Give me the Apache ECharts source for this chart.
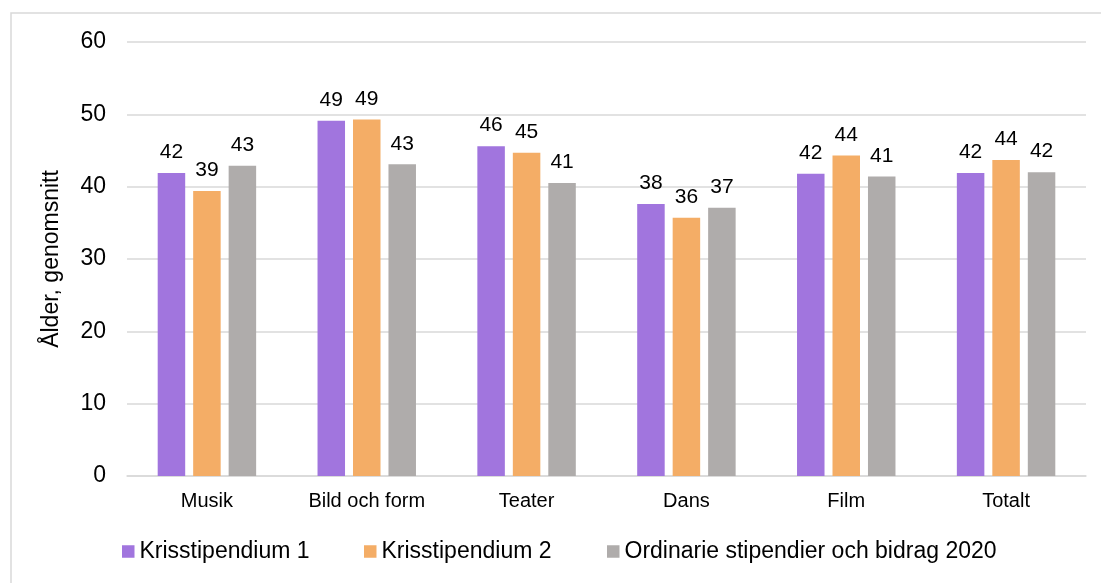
<!DOCTYPE html>
<html>
<head>
<meta charset="utf-8">
<script src="https://cdn.jsdelivr.net/npm/echarts@6/dist/echarts.min.js"></script>
<style>
  html, body { margin: 0; padding: 0; background: #fff; }
  #main { width: 1101px; height: 583px; }
</style>
</head>
<body>
<div id="main"></div>
<script>
// data
var categories = ['Musik', 'Bild och form', 'Teater', 'Dans', 'Film', 'Totalt'];
var seriesNames = ['Krisstipendium 1', 'Krisstipendium 2', 'Ordinarie stipendier och bidrag 2020'];
var kris1 = [41.9, 49.1, 45.6, 37.6, 41.8, 41.9];
var kris2 = [39.4, 49.3, 44.7, 35.7, 44.3, 43.7];
var ordinarie = [42.9, 43.1, 40.5, 37.1, 41.4, 42.0];
var yTicks = [0, 10, 20, 30, 40, 50, 60];

var colors = ['#a175de', '#f4ad66', '#afacab'];
var fontFam = '"Liberation Sans", Arial, sans-serif';

var myChart = echarts.init(document.getElementById('main'));

function barSeries(name, data, color) {
    return {
        name: name,
        type: 'bar',
        data: data,
        barWidth: 27.5,
        barGap: '29%',
        itemStyle: { color: color },
        label: {
            show: true,
            position: 'top',
            distance: 10,
            color: '#000',
            fontSize: 21,
            fontFamily: fontFam,
            formatter: function (p) { return Math.round(p.value); }
        }
    };
}

// one legend per item so each can sit where the original puts it
function legendAt(name, left) {
    return {
        data: [name],
        left: left,
        top: 540,
        padding: 0,
        itemWidth: 12.5,
        itemHeight: 12.5,
        itemGap: 0,
        icon: 'rect',
        textStyle: { fontSize: 23, fontFamily: fontFam, color: '#000' }
    };
}

var option = {
    animation: false,
    textStyle: { fontFamily: fontFam },
    graphic: [{
        type: 'rect',
        shape: { x: 11, y: 13, width: 1100, height: 600 },
        style: { fill: 'none', stroke: '#d9d9d9', lineWidth: 1.5 },
        silent: true
    }],
    legend: [
        legendAt(seriesNames[0], 122),
        legendAt(seriesNames[1], 364),
        legendAt(seriesNames[2], 607)
    ],
    grid: {
        left: 127,
        right: 15,
        top: 42,
        bottom: 107
    },
    xAxis: {
        type: 'category',
        data: categories,
        axisTick: { show: false },
        axisLine: { lineStyle: { color: '#d9d9d9', width: 1.5 } },
        axisLabel: { color: '#000', fontSize: 20, margin: 15, fontFamily: fontFam }
    },
    yAxis: {
        type: 'value',
        min: yTicks[0],
        max: yTicks[yTicks.length - 1],
        interval: 10,
        name: 'Ålder, genomsnitt',
        nameLocation: 'middle',
        nameGap: 64,
        nameTextStyle: { color: '#000', fontSize: 23, fontFamily: fontFam },
        axisLine: { show: false },
        axisTick: { show: false },
        axisLabel: { color: '#000', fontSize: 23, margin: 21, fontFamily: fontFam },
        splitLine: { lineStyle: { color: '#d9d9d9', width: 1.5 } }
    },
    series: [
        barSeries(seriesNames[0], kris1, colors[0]),
        barSeries(seriesNames[1], kris2, colors[1]),
        barSeries(seriesNames[2], ordinarie, colors[2])
    ]
};

myChart.setOption(option);
</script>
</body>
</html>
